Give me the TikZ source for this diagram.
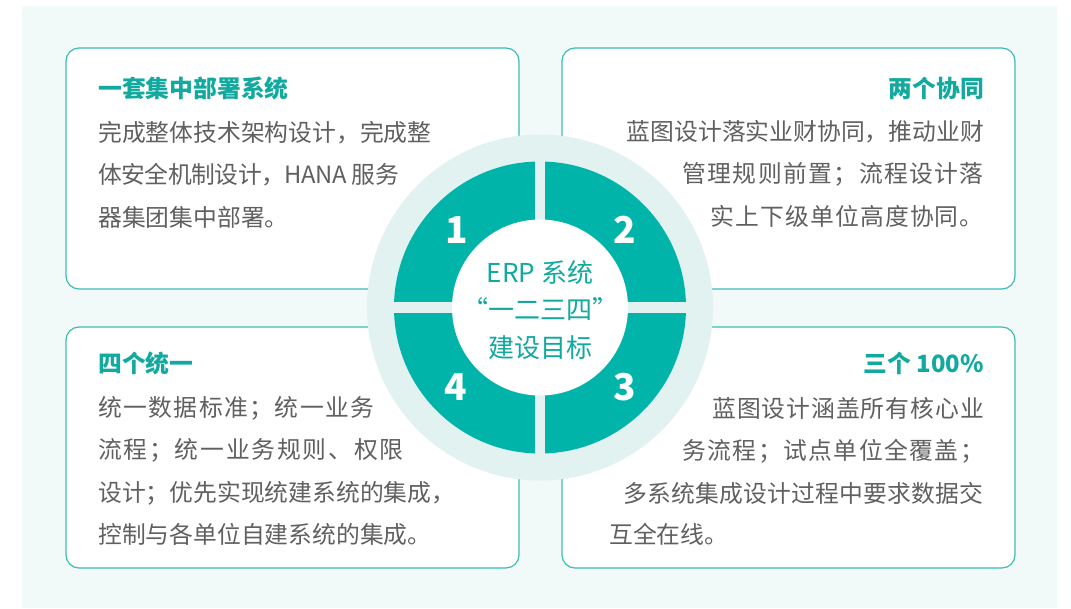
\documentclass[tikz,border=0pt]{standalone}
\usepackage{fontspec}
\setmainfont{Noto Sans CJK SC}
\usepackage{xcolor}
\definecolor{bgmint}{HTML}{F2FAF9}
\definecolor{ringlight}{HTML}{E1F2F0}
\definecolor{ringteal}{HTML}{00B4AA}
\definecolor{boxline}{HTML}{3CBCB3}
\definecolor{titleteal}{HTML}{12A99F}
\definecolor{bodygray}{HTML}{606060}
\newcommand{\spaced}[2]{{\addfontfeature{LetterSpace=#1}#2}}
\tikzset{
  goalbox/.style={draw=boxline, line width=1.2pt, fill=white, rounded corners=13pt},
  boxtitle/.style={inner sep=0pt, text=titleteal, font=\fontsize{23.8}{28}\selectfont\bfseries},
  boxbody/.style={inner sep=0pt, text=bodygray, font=\fontsize{23.8}{42.5}\selectfont},
  ringnum/.style={inner sep=0pt, text=white, font=\fontsize{37}{40}\selectfont\bfseries},
}
\begin{document}
\begin{tikzpicture}[x=1pt,y=-1pt]
            \useasboundingbox (0,0) rectangle (1071,608);
            \fill[white] (0,0) rectangle (1071,608);
            \fill[bgmint] (22,6) rectangle (1057,608);
            % four boxes
            \draw[goalbox] (66,48) rectangle (519,289);
            \draw[goalbox] (562,48) rectangle (1015,289);
            \draw[goalbox] (66,327) rectangle (519,568);
            \draw[goalbox] (562,327) rectangle (1015,568);
            % ring
            \fill[ringlight] (540,307.5) circle[radius=173];
            \fill[ringteal] (540,307.5) circle[radius=146];
            \draw[ringlight, line width=10.5pt] (540,158) -- (540,457) (390,307.5) -- (690,307.5);
            \fill[white] (540,307.5) circle[radius=88];
            \node[ringnum] (n1) at (457,230) {1};
            \node[ringnum] (n2) at (625,230) {2};
            \node[ringnum] (n3) at (625,387) {3};
            \node[ringnum] (n4) at (456,387) {4};
            \node[inner sep=0pt, text=titleteal, align=center, font=\fontsize{26}{37.5}\selectfont] (goal) at (540,310) {ERP 系统\\“一二三四”\\建设目标};
            % texts
            \node[boxtitle, anchor=west] (t1) at (98,88) {一套集中部署系统};
            \node[boxbody, anchor=north west, align=left] (b1) at (98,121) {完成整体技术架构设计，完成整\\\spaced{-2}{体安全机制设计，HANA 服务}\\器集团集中部署。};
            \node[boxtitle, anchor=east] (t2) at (984,88) {两个协同};
            \node[boxbody, anchor=north east, align=right] (b2) at (984,120) {蓝图设计落实业财协同，推动业财\\\spaced{6}{管理规则前置；流程设计落}\\\spaced{5}{实上下级单位高度协同。}};
            \node[boxtitle, anchor=west] (t3) at (98,363) {四个统一};
            \node[boxbody, anchor=north west, align=left] (b3) at (98,396) {\spaced{6}{统一数据标准；统一业务}\\\spaced{7.5}{流程；统一业务规则、权限}\\设计；优先实现统建系统的集成，\\控制与各单位自建系统的集成。};
            \node[boxtitle, anchor=east] (t4) at (984,363) {三个 100\%};
            \node[boxbody, anchor=north east, align=right] (b4) at (984,397) {\spaced{4}{蓝图设计涵盖所有核心业}\\\spaced{6}{务流程；试点单位全覆盖；}\\\spaced{1}{多系统集成设计过程中要求数据交}};
            \node[boxbody, anchor=north west] (b4last) at (609,523) {互全在线。};
        \end{tikzpicture}
\end{document}
